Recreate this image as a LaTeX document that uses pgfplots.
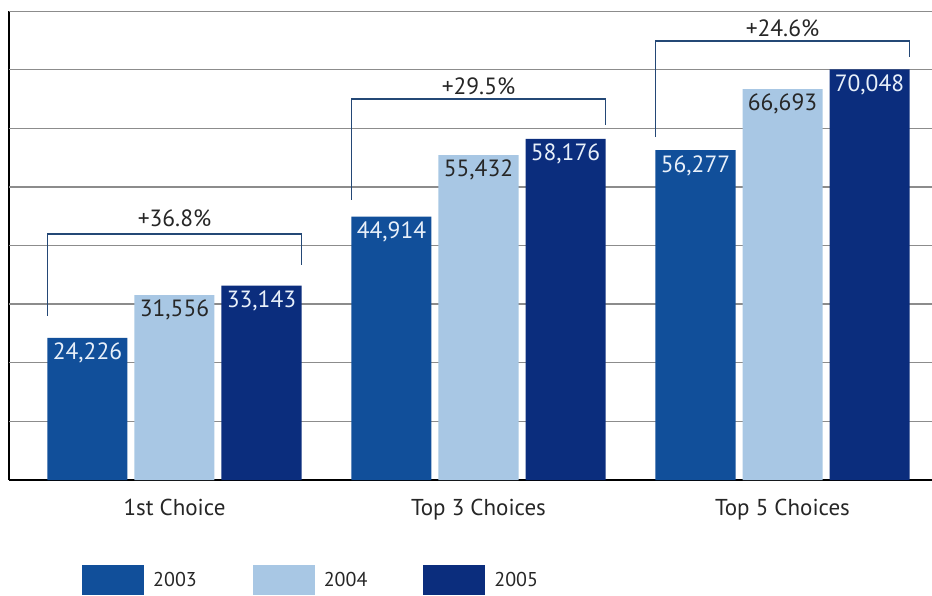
\documentclass[border=0pt]{standalone}
\usepackage{pgfplots}
\usepackage{pgfplotstable}
\pgfplotsset{compat=1.18}
\usepackage{fontspec}
\setmainfont{PT Sans}
\definecolor{cA}{RGB}{17,79,154}
\definecolor{cB}{RGB}{168,199,228}
\definecolor{cC}{RGB}{11,45,125}
\definecolor{brk}{RGB}{36,72,118}
\definecolor{grd}{RGB}{140,140,140}
\definecolor{lblL}{RGB}{232,240,250}
\pgfplotstableread{
x y lab
0 24226 24,226
1 44914 44,914
2 56277 56,277
}\tA
\pgfplotstableread{
x y lab
0 31556 31,556
1 55432 55,432
2 66693 66,693
}\tB
\pgfplotstableread{
x y lab
0 33143 33,143
1 58176 58,176
2 70048 70,048
}\tC
\begin{document}
\begin{tikzpicture}
\useasboundingbox (0,0) rectangle (932pt,-595pt);
\begin{axis}[
  at={(9pt,-480pt)}, anchor=south west,
  scale only axis, width=923pt, height=469pt,
  xmin=-0.5444, xmax=2.4918, ymin=0, ymax=80000,
  axis x line=bottom, axis y line=left,
  axis line style={-, line width=2.2pt, black},
  xtick={0,1,2}, xticklabels={1st Choice, Top 3 Choices, Top 5 Choices},
  xticklabel style={font=\fontsize{23}{27}\selectfont, text=black!85, yshift=-16pt},
  ytick=\empty,
  major tick length=0pt,
  unbounded coords=jump,
  point meta=explicit symbolic,
  legend columns=3,
  legend style={at={(rel axis cs:0,0)}, anchor=west, xshift=73pt, yshift=-100pt,
    draw=none, fill=none, inner sep=0pt,
    font=\fontsize{20}{24}\selectfont, text=black!85,
    /tikz/every odd column/.append style={column sep=7pt},
    /tikz/every even column/.append style={column sep=54pt}},
  legend cell align=left,
  legend image code/.code={\fill[#1,draw=none] (0pt,-15pt) rectangle (62pt,15pt);},
  every node near coord/.append style={anchor=north, inner sep=2pt, yshift=-3pt,
    font=\fontsize{23.5}{27}\selectfont},
]
% horizontal gridlines
\addplot[grd, line width=1.3pt, mark=none, forget plot, point meta=none] coordinates {
  (-0.5444,10000) (2.4918,10000) (0,nan)
  (-0.5444,20000) (2.4918,20000) (0,nan)
  (-0.5444,30000) (2.4918,30000) (0,nan)
  (-0.5444,40000) (2.4918,40000) (0,nan)
  (-0.5444,50000) (2.4918,50000) (0,nan)
  (-0.5444,60000) (2.4918,60000) (0,nan)
  (-0.5444,70000) (2.4918,70000) (0,nan)
  (-0.5444,80000) (2.4918,80000)};
\addplot[ybar, bar width=80pt, bar shift=-87pt, fill=cA, draw=none,
  nodes near coords, every node near coord/.append style={text=lblL, xshift=-87pt}]
  table[x=x, y=y, meta=lab] {\tA};
\addlegendentry{2003}
\addplot[ybar, bar width=80pt, bar shift=0pt, fill=cB, draw=none,
  nodes near coords, every node near coord/.append style={text=black!85}]
  table[x=x, y=y, meta=lab] {\tB};
\addlegendentry{2004}
\addplot[ybar, bar width=80pt, bar shift=87pt, fill=cC, draw=none,
  nodes near coords, every node near coord/.append style={text=lblL, xshift=87pt}]
  table[x=x, y=y, meta=lab] {\tC};
\addlegendentry{2005}
\addplot[brk, line width=1.7pt, mark=none, forget plot, point meta=none] coordinates
  {(-0.4175,28000) (-0.4175,42000) (0.4175,42000) (0.4175,36700)};
\addplot[brk, line width=1.7pt, mark=none, forget plot, point meta=none] coordinates
  {(0.5825,47800) (0.5825,65000) (1.4175,65000) (1.4175,60600)};
\addplot[brk, line width=1.7pt, mark=none, forget plot, point meta=none] coordinates
  {(1.5825,58500) (1.5825,74900) (2.4175,74900) (2.4175,72200)};
\node[font=\fontsize{23.5}{27}\selectfont, text=black!85] at (axis cs:0,44700) {+36.8\%};
\node[font=\fontsize{23.5}{27}\selectfont, text=black!85] at (axis cs:1,67200) {+29.5\%};
\node[font=\fontsize{23.5}{27}\selectfont, text=black!85] at (axis cs:2,77100) {+24.6\%};
\end{axis}
\end{tikzpicture}
\end{document}
